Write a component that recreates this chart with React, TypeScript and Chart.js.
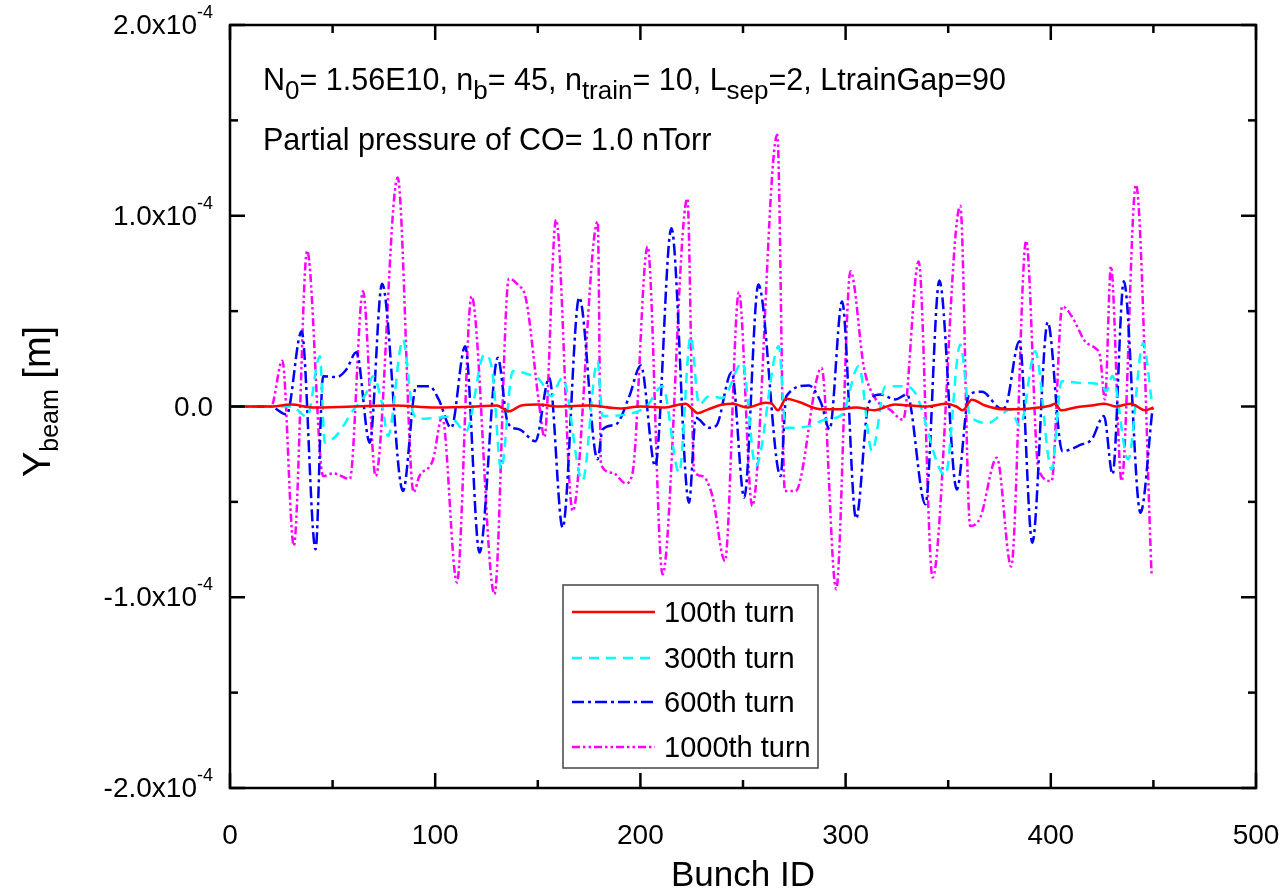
import { useEffect, useRef } from 'react';
import { Chart, registerables } from 'chart.js';

Chart.register(...registerables);

const FONT = '"Liberation Sans", Arial, Helvetica, sans-serif';

// ---- series meta ----
const seriesLabels = ['100th turn', '300th turn', '600th turn', '1000th turn'];
const seriesColors = ['#ff0000', '#00ffff', '#0000ff', '#ff00ff'];
const seriesDash: number[][] = [[], [10, 7], [12, 4, 3, 4], [8, 3, 2.5, 3, 2.5, 3]];

// ---- data (x: Bunch ID, y: Y_beam in units of 1e-5 m) ----
const turn100X = [0, 20, 30, 40, 60, 80, 100, 120, 130, 136, 142, 150, 160, 175, 190, 200, 212, 222, 225, 228, 233, 240, 245, 252, 261, 264, 267, 271, 277, 288, 296, 305, 314, 324, 332, 340, 349, 354, 357, 361.5, 368, 377, 390, 400, 402, 405, 412, 420, 426, 432, 439, 446, 450];
const turn100Y = [0, 0, 0.1, -0.05, 0, 0.05, -0.05, 0, 0.05, -0.25, 0.05, 0.1, 0, 0.05, -0.1, 0, -0.05, 0.15, -0.1, -0.35, -0.15, 0.1, 0.15, -0.05, 0.2, 0.15, -0.2, 0.4, 0.25, -0.15, -0.15, -0.05, -0.2, 0.1, 0.05, 0, 0.15, 0, -0.2, 0.35, 0.05, -0.15, -0.1, 0.05, 0.15, -0.2, -0.05, 0.05, 0.15, 0, 0.15, -0.2, -0.05];

const turn300X = [0, 30, 37.6, 43.8, 46.2, 52, 60, 66.5, 69.7, 74, 77, 84.3, 89.2, 92.4, 100, 107, 115, 124, 128, 132.1, 137.8, 145, 150.8, 156.5, 162, 171.8, 179.1, 181.6, 192.9, 202.9, 210.8, 218.9, 224.5, 228.6, 233.5, 240, 249.7, 256.2, 267.5, 270.8, 282.1, 290.2, 298.3, 306.4, 312.9, 319.4, 329.1, 334, 348.6, 355.9, 360.7, 369.6, 375, 380.2, 385, 392.4, 400.4, 405.3, 413.4, 424.7, 427, 430, 437.7, 445, 449.1];
const turn300Y = [0, 0, -0.54, 2.64, -1.9, -1.5, -0.2, 0.72, 1.59, 0.2, -1.55, 3.51, -0.33, -0.65, -0.6, -0.54, -1.3, 2.72, 1.76, -3.3, 1.85, 1.7, 1.41, 0.54, 1.5, -3.9, 2.37, -0.5, -0.42, 0, 1.06, -3.47, 3.68, 0.1, 0.54, 0.45, 2.29, -3.12, 3.16, -1.12, -1.03, -0.68, -0.42, 2.11, -2.34, 1.06, 1.06, 0.7, -3.6, 3.25, -0.5, -0.86, -0.5, -0.16, -1.03, 2.9, -3.3, 1.33, 1.24, 1.15, 0.8, 1.6, -2.77, 3.33, 0.37];

const turn600X = [0, 19.5, 27.6, 34.9, 41.7, 45.4, 51.9, 56.7, 61.6, 68.1, 74.1, 84.3, 90.8, 97.3, 101.7, 107.8, 114.6, 121.6, 130.5, 135.4, 141, 148.8, 155.6, 162.1, 170.2, 179.1, 181.6, 188.1, 194.6, 200.2, 207.2, 215.1, 223.7, 227, 233.5, 237, 244.5, 250.6, 257.5, 268.3, 271.1, 282.1, 288, 292.2, 298.3, 305.1, 311.3, 316.9, 324.2, 329.9, 338.9, 345.7, 354.2, 360.2, 366.4, 376.1, 378, 384.7, 391, 398.5, 405.6, 415, 419.9, 425.9, 430.1, 435.6, 443.7, 449.6];
const turn600Y = [0, 0, -0.42, 3.94, -7.49, 1.59, 1.54, 1.94, 2.84, -1.9, 6.44, -4.43, 1.06, 1.06, 0.37, -1.12, 3.16, -7.66, 2.55, -0.86, -1.2, -1.82, 1.5, -6.35, 5.72, -2.77, -1.2, -0.94, 0.54, 2.15, -3.12, 9.35, -5.04, -0.59, -1.12, -1.0, 1.8, -4.78, 6.39, -3.65, 0.54, 1.1, 0.2, -1.2, 5.51, -5.88, 0.19, 0.63, 0.37, 0.63, -5.13, 6.6, -4.35, 0.63, 0.77, -0.12, 0, 3.42, -7.14, 4.42, -2.34, -1.99, -1.73, -0.5, -3.56, 6.56, -5.57, -0.07];

const turn1000X = [0, 20, 25.5, 31.1, 37.6, 45.4, 50.3, 58.4, 64.8, 71, 81.7, 89.5, 92.3, 98.9, 103.4, 110.6, 117.7, 128.9, 135.9, 140.2, 144.3, 150.8, 153.2, 158.9, 167, 179.2, 180.8, 186.4, 192.9, 196.2, 203.5, 210.8, 222.9, 226.2, 230.2, 235.1, 241.2, 248, 254.5, 266.7, 270.4, 275.6, 288.3, 295.4, 302.4, 309, 314, 322, 328, 335.6, 342.4, 355.9, 360.7, 365.6, 373.7, 380.7, 388, 394, 400.4, 405.6, 410.2, 416.7, 421.5, 424, 426.4, 429.3, 434.5, 441.5, 449.1];
const turn1000Y = [0, 0, 2.4, -7.3, 8.17, -3.65, -3.5, -3.8, 6.04, -3.65, 12.0, -4.5, -3.65, -2.8, -0.54, -9.23, 5.78, -9.84, 6.7, 6.39, 5.6, 0, -1.6, 9.79, -5.48, 9.7, -3.04, -3.47, -4.03, -3.47, 8.39, -8.8, 10.9, -3.39, -3.65, -4.7, -8.1, 5.99, -5.22, 14.24, -4.43, -4.43, 2.02, -9.58, 7.09, 2.0, 0.5, -0.2, -0.7, 7.6, -8.97, 10.52, -6.27, -5.83, -2.69, -8.39, 8.69, -3.3, -3.91, 5.25, 4.73, 3.42, 3.07, 2.64, 0.37, 7.35, -3.91, 11.62, -8.8];

const seriesX = [turn100X, turn300X, turn600X, turn1000X];
const seriesY = [turn100Y, turn300Y, turn600Y, turn1000Y];
const Y_UNIT = 1e-5;

// ---- axes ----
const xMin = 0;
const xMax = 500;
const yMin = -2e-4;
const yMax = 2e-4;
const xMajorTicks = [0, 100, 200, 300, 400, 500];
const xMinorTicks = [50, 150, 250, 350, 450];
const yMajorTicks = [-2e-4, -1e-4, 0, 1e-4, 2e-4];
const yTickText = ['-2.0x10', '-1.0x10', '0.0', '1.0x10', '2.0x10'];
const yTickSup = ['-4', '-4', '', '-4', '-4'];
const yMinorTicks = [-1.5e-4, -0.5e-4, 0.5e-4, 1.5e-4];

type Seg = { t: string; s: number; dy?: number };

function richWidth(ctx: CanvasRenderingContext2D, segs: Seg[]) {
  let w = 0;
  for (const sg of segs) {
    ctx.font = `${sg.s}px ${FONT}`;
    w += ctx.measureText(sg.t).width;
  }
  return w;
}

function drawRich(ctx: CanvasRenderingContext2D, segs: Seg[], x: number, y: number) {
  let cx = x;
  ctx.textAlign = 'left';
  ctx.textBaseline = 'alphabetic';
  for (const sg of segs) {
    ctx.font = `${sg.s}px ${FONT}`;
    ctx.fillText(sg.t, cx, y + (sg.dy || 0));
    cx += ctx.measureText(sg.t).width;
  }
}

const decorPlugin = {
  id: 'decor',
  afterDatasetsDraw(chart: any) {
    const ctx: CanvasRenderingContext2D = chart.ctx;
    const xs = chart.scales.x;
    const ys = chart.scales.y;
    const { left, right, top, bottom } = chart.chartArea;
    ctx.save();
    ctx.fillStyle = '#000';
    ctx.strokeStyle = '#000';

    // frame
    ctx.lineWidth = 2.5;
    ctx.setLineDash([]);
    ctx.strokeRect(left, top, right - left, bottom - top);

    // ticks (inward, all four sides)
    ctx.lineWidth = 2.5;
    const tick = (x1: number, y1: number, x2: number, y2: number) => {
      ctx.beginPath();
      ctx.moveTo(x1, y1);
      ctx.lineTo(x2, y2);
      ctx.stroke();
    };
    for (const v of xMajorTicks) {
      const px = xs.getPixelForValue(v);
      tick(px, bottom, px, bottom - 15);
      tick(px, top, px, top + 15);
    }
    for (const v of xMinorTicks) {
      const px = xs.getPixelForValue(v);
      tick(px, bottom, px, bottom - 8);
      tick(px, top, px, top + 8);
    }
    for (const v of yMajorTicks) {
      const py = ys.getPixelForValue(v);
      tick(left, py, left + 15, py);
      tick(right, py, right - 15, py);
    }
    for (const v of yMinorTicks) {
      const py = ys.getPixelForValue(v);
      tick(left, py, left + 8, py);
      tick(right, py, right - 8, py);
    }

    // x tick labels
    ctx.font = `28px ${FONT}`;
    ctx.textAlign = 'center';
    ctx.textBaseline = 'alphabetic';
    for (const v of xMajorTicks) {
      ctx.fillText(String(v), xs.getPixelForValue(v), 844);
    }

    // y tick labels
    yMajorTicks.forEach((v, i) => {
      const py = ys.getPixelForValue(v);
      const segs: Seg[] = [{ t: yTickText[i], s: 28 }];
      if (yTickSup[i]) segs.push({ t: yTickSup[i], s: 18, dy: -16 });
      const w = richWidth(ctx, segs);
      drawRich(ctx, segs, 213 - w, py + 9);
    });

    // x title
    ctx.font = `35px ${FONT}`;
    ctx.textAlign = 'center';
    ctx.fillText('Bunch ID', (left + right) / 2, 886);

    // y title (rotated)
    ctx.save();
    ctx.translate(50, (top + bottom) / 2 - 5);
    ctx.rotate(-Math.PI / 2);
    const ySegs: Seg[] = [
      { t: 'Y', s: 38 },
      { t: 'beam', s: 25, dy: 8 },
      { t: ' [m]', s: 38 },
    ];
    const yw = richWidth(ctx, ySegs);
    drawRich(ctx, ySegs, -yw / 2, 0);
    ctx.restore();

    // annotation
    const line1: Seg[] = [
      { t: 'N', s: 30.5 },
      { t: '0', s: 26, dy: 9 },
      { t: '= 1.56E10, n', s: 30.5 },
      { t: 'b', s: 26, dy: 9 },
      { t: '= 45, n', s: 30.5 },
      { t: 'train', s: 26, dy: 9 },
      { t: '= 10, L', s: 30.5 },
      { t: 'sep', s: 26, dy: 9 },
      { t: '=2, LtrainGap=90', s: 30.5 },
    ];
    drawRich(ctx, line1, 263, 90);
    drawRich(ctx, [{ t: 'Partial pressure of CO= 1.0 nTorr', s: 30.5 }], 263, 150);

    // legend
    const lx = 563, ly = 585, lw = 255, lh = 183;
    ctx.fillStyle = '#fff';
    ctx.fillRect(lx, ly, lw, lh);
    ctx.strokeStyle = '#444';
    ctx.lineWidth = 1.5;
    ctx.strokeRect(lx, ly, lw, lh);
    const rows = [612, 658, 702, 747];
    chart.data.datasets.forEach((ds: any, i: number) => {
      const ry = rows[i];
      ctx.strokeStyle = ds.borderColor;
      ctx.lineWidth = 2.5;
      ctx.setLineDash(ds.borderDash || []);
      ctx.beginPath();
      ctx.moveTo(572, ry);
      ctx.lineTo(655, ry);
      ctx.stroke();
      ctx.setLineDash([]);
      ctx.fillStyle = '#000';
      ctx.font = `29px ${FONT}`;
      ctx.textAlign = 'left';
      ctx.fillText(ds.label, 664, ry + 10);
    });

    ctx.restore();
  },
};

export default function App() {
  const canvasRef = useRef<HTMLCanvasElement>(null);

  useEffect(() => {
    document.body.style.margin = '0';
    const datasets = seriesLabels.map((label, i) => ({
      label,
      data: seriesX[i].map((x, j) => ({ x, y: seriesY[i][j] * Y_UNIT })),
      borderColor: seriesColors[i],
      backgroundColor: seriesColors[i],
      borderWidth: 2.5,
      borderDash: seriesDash[i],
      pointRadius: 0,
      fill: false,
      cubicInterpolationMode: 'monotone' as const,
    }));
    const chart = new Chart(canvasRef.current!, {
      type: 'line',
      data: { datasets },
      options: {
        animation: false,
        responsive: false,
        devicePixelRatio: 1,
        layout: { padding: { top: 25, right: 28, left: 0, bottom: 0 } },
        plugins: { legend: { display: false }, tooltip: { enabled: false } },
        scales: {
          x: {
            type: 'linear',
            min: xMin,
            max: xMax,
            grid: { display: false },
            border: { display: false },
            ticks: { display: false },
            afterFit: (s: any) => {
              s.height = 103;
            },
          },
          y: {
            type: 'linear',
            min: yMin,
            max: yMax,
            grid: { display: false },
            border: { display: false },
            ticks: { display: false },
            afterFit: (s: any) => {
              s.width = 230;
            },
          },
        },
      },
      plugins: [decorPlugin],
    });
    return () => chart.destroy();
  }, []);

  return (
    <div style={{ width: 1284, height: 891, background: '#fff' }}>
      <canvas ref={canvasRef} width={1284} height={891} style={{ display: 'block' }} />
    </div>
  );
}
